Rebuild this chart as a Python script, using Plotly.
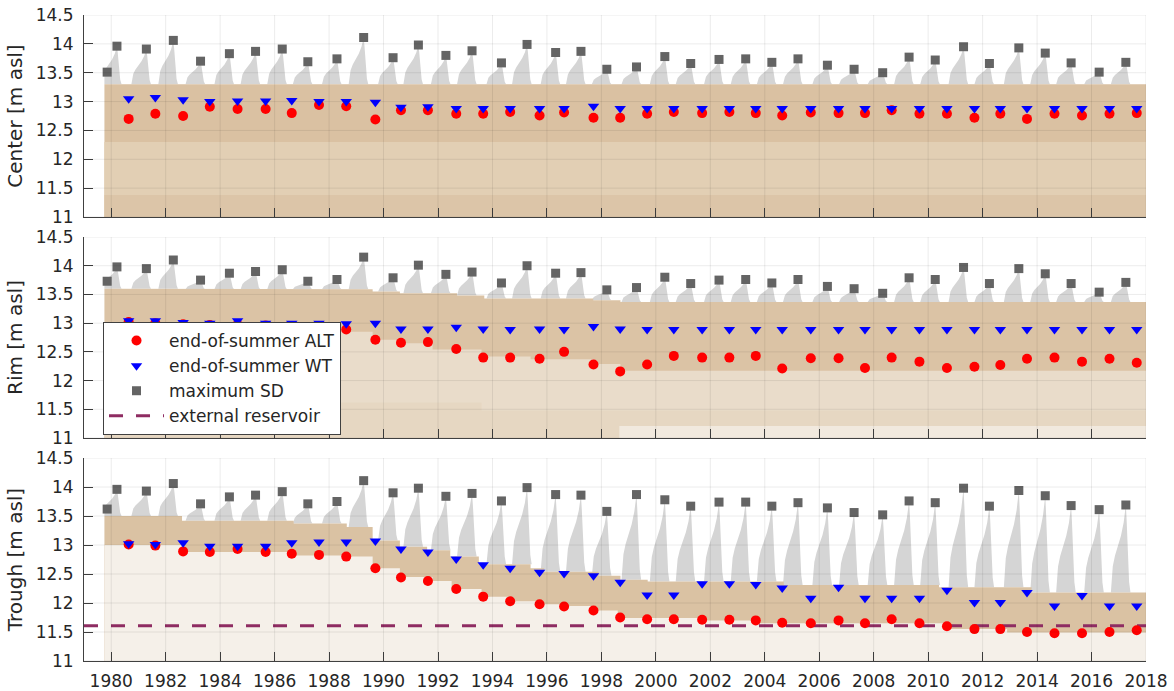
import plotly.graph_objects as go
from plotly.subplots import make_subplots

# ---------------------------------------------------------------- axes
record_start = 1979.75
record_end = 2018.0
x_range = [1979.0, 2018.0]
y_range = [11.0, 14.5]
x_ticks = list(range(1980, 2019, 2))
y_ticks = [11, 11.5, 12, 12.5, 13, 13.5, 14, 14.5]
panel_names = ["Center", "Rim", "Trough"]

# ------------------------------------------- end-of-summer values (1980-2017)
summer_dates = [1980.64, 1981.62, 1982.64, 1983.62, 1984.64, 1985.67, 1986.63,
                1987.63, 1988.63, 1989.70, 1990.64, 1991.63, 1992.67, 1993.66,
                1994.65, 1995.73, 1996.63, 1997.71, 1998.69, 1999.68, 2000.66,
                2001.70, 2002.70, 2003.67, 2004.64, 2005.69, 2006.71, 2007.68,
                2008.66, 2009.68, 2010.69, 2011.70, 2012.65, 2013.63, 2014.64,
                2015.65, 2016.66, 2017.66]

center_alt = [12.70, 12.79, 12.75, 12.91, 12.87, 12.87, 12.80, 12.94, 12.92, 12.69,
              12.85, 12.85, 12.79, 12.79, 12.82, 12.76, 12.81, 12.72, 12.72, 12.79,
              12.82, 12.80, 12.82, 12.80, 12.76, 12.81, 12.80, 12.80, 12.85, 12.79,
              12.79, 12.72, 12.79, 12.70, 12.79, 12.76, 12.79, 12.80]
center_wt = [13.05, 13.07, 13.03, 13.00, 13.01, 13.01, 13.02, 13.00, 13.00, 12.99,
             12.90, 12.91, 12.88, 12.88, 12.88, 12.88, 12.88, 12.92, 12.88, 12.88,
             12.88, 12.88, 12.88, 12.88, 12.88, 12.88, 12.88, 12.88, 12.88, 12.88,
             12.88, 12.88, 12.88, 12.88, 12.88, 12.88, 12.88, 12.88]

rim_alt = [13.02, 13.00, 12.98, 12.97, 12.97, 12.96, 12.95, 12.93, 12.89, 12.71,
           12.66, 12.67, 12.55, 12.40, 12.40, 12.38, 12.50, 12.28, 12.16, 12.28,
           12.43, 12.40, 12.40, 12.43, 12.21, 12.39, 12.39, 12.22, 12.40, 12.33,
           12.22, 12.24, 12.27, 12.38, 12.40, 12.33, 12.38, 12.31]
rim_wt = [13.04, 13.04, 13.01, 13.00, 13.04, 13.00, 13.00, 13.00, 12.99, 13.00,
          12.90, 12.90, 12.93, 12.90, 12.89, 12.90, 12.89, 12.94, 12.90, 12.89,
          12.89, 12.89, 12.89, 12.89, 12.89, 12.89, 12.89, 12.89, 12.89, 12.89,
          12.89, 12.89, 12.89, 12.89, 12.89, 12.89, 12.89, 12.89]

trough_alt = [13.01, 12.99, 12.89, 12.88, 12.93, 12.88, 12.85, 12.83, 12.80, 12.60,
              12.44, 12.38, 12.24, 12.11, 12.03, 11.98, 11.94, 11.87, 11.75, 11.72,
              11.72, 11.71, 11.71, 11.70, 11.66, 11.65, 11.70, 11.65, 11.72, 11.65,
              11.60, 11.55, 11.55, 11.50, 11.48, 11.48, 11.50, 11.53]
trough_wt = [13.02, 13.01, 13.04, 12.98, 12.98, 12.98, 13.04, 13.05, 13.05, 13.07,
             12.93, 12.88, 12.76, 12.66, 12.60, 12.53, 12.51, 12.47, 12.36, 12.14,
             12.14, 12.33, 12.33, 12.32, 12.26, 12.08, 12.27, 12.08, 12.08, 12.08,
             12.22, 12.01, 12.01, 12.18, 11.95, 12.13, 11.95, 11.95]

# ------------------------------------------------ maximum snow depth surface
sd_dates = [1979.85, 1980.21, 1981.29, 1982.28, 1983.28, 1984.34, 1985.30, 1986.28,
            1987.22, 1988.29, 1989.27, 1990.35, 1991.28, 1992.29, 1993.25, 1994.33,
            1995.27, 1996.32, 1997.25, 1998.20, 1999.29, 2000.33, 2001.28, 2002.32,
            2003.30, 2004.26, 2005.22, 2006.30, 2007.28, 2008.33, 2009.30, 2010.26,
            2011.30, 2012.25, 2013.33, 2014.30, 2015.25, 2016.28, 2017.26]
center_sd = [13.51, 13.96, 13.91, 14.06, 13.70, 13.83, 13.87, 13.91, 13.69, 13.74,
             14.11, 13.76, 13.98, 13.80, 13.88, 13.67, 13.99, 13.85, 13.87, 13.56,
             13.60, 13.78, 13.66, 13.73, 13.74, 13.68, 13.74, 13.63, 13.56, 13.50,
             13.77, 13.72, 13.95, 13.66, 13.93, 13.84, 13.67, 13.51, 13.68]
rim_sd = [13.73, 13.98, 13.95, 14.10, 13.75, 13.87, 13.90, 13.93, 13.73, 13.76,
          14.15, 13.79, 14.01, 13.85, 13.89, 13.70, 14.00, 13.87, 13.88, 13.58,
          13.62, 13.80, 13.69, 13.75, 13.76, 13.70, 13.76, 13.64, 13.60, 13.52,
          13.79, 13.76, 13.97, 13.69, 13.95, 13.86, 13.69, 13.54, 13.71]
trough_sd = [13.62, 13.96, 13.93, 14.06, 13.71, 13.83, 13.86, 13.92, 13.71, 13.75,
             14.11, 13.90, 13.98, 13.84, 13.89, 13.76, 13.99, 13.87, 13.86, 13.58,
             13.87, 13.78, 13.67, 13.74, 13.74, 13.67, 13.73, 13.64, 13.56, 13.52,
             13.76, 13.73, 13.98, 13.67, 13.94, 13.85, 13.68, 13.61, 13.69]

# seasonal snow-cover profile around each maximum (years from peak, share of depth)
snow_profile_dt = [-0.55, -0.48, -0.40, -0.30, -0.18, -0.08, -0.02, 0.0,
                   0.03, 0.07, 0.12, 0.17]
snow_profile_frac = [0.0, 0.30, 0.42, 0.52, 0.65, 0.80, 0.93, 1.0,
                     0.82, 0.45, 0.12, 0.0]

# ------------------------------------------- ground layers (step start, level)
center_surface_t = [1979.75]
center_surface = [13.30]
center_layer2_t = [1979.75]
center_layer2 = [12.30]
center_layer3_t = [1979.75]
center_layer3 = [11.38]

rim_surface_t = [1979.75, 1982.6, 1989.6, 1990.6, 1992.7, 1993.7, 1997.7, 1998.7]
rim_surface = [13.60, 13.59, 13.55, 13.52, 13.48, 13.43, 13.40, 13.37]
rim_table_t = [1979.75, 1988.65, 1989.6, 1990.6, 1991.8, 1993.6, 1995.4, 1997.7, 1998.7]
rim_table = [12.92, 12.85, 12.71, 12.65, 12.54, 12.42, 12.37, 12.29, 12.17]
rim_deep_t = [1979.75, 1993.6]
rim_deep = [11.62, 11.48]
rim_base_t = [1998.66]
rim_base = [11.21]

trough_surface_t = [1979.75, 1982.6, 1986.7, 1988.65, 1989.6, 1990.6, 1991.6, 1992.45,
                    1993.5, 1995.4, 1995.9, 1997.9, 1998.7, 1999.7, 2004.7, 2010.4,
                    2013.8]
trough_surface = [13.50, 13.42, 13.37, 13.31, 13.08, 12.97, 12.91, 12.80,
                  12.67, 12.60, 12.54, 12.47, 12.40, 12.37, 12.31, 12.27,
                  12.18]
trough_table_t = [1979.75, 1982.6, 1986.7, 1988.65, 1989.6, 1990.6, 1991.8, 1992.5,
                  1993.6, 1994.6, 1995.7, 1996.6, 1997.7, 1998.6, 2001.7, 2003.6,
                  2010.7, 2012.9]
trough_table = [13.00, 12.88, 12.82, 12.80, 12.60, 12.45, 12.38, 12.24,
                12.11, 12.03, 11.98, 11.95, 11.87, 11.74, 11.70, 11.65,
                11.55, 11.49]

reservoir_level = 11.61

# ---------------------------------------------------------------- colours
c_alt = "#FF0000"
c_wt = "#0000FF"
c_sd = "#646464"
c_snow = "#D5D5D5"
c_res = "#8E2C62"
c_text = "#262626"

panels = [
    dict(alt=center_alt, wt=center_wt, sd=center_sd,
         surface=(center_surface_t, center_surface),
         layers=[(center_surface_t, center_surface, "#DAC1A2"),
                 (center_layer2_t, center_layer2, "#E2CFB4"),
                 (center_layer3_t, center_layer3, "#DCC5A8")],
         reservoir=False),
    dict(alt=rim_alt, wt=rim_wt, sd=rim_sd,
         surface=(rim_surface_t, rim_surface),
         layers=[(rim_surface_t, rim_surface, "#DBC3A5"),
                 (rim_table_t, rim_table, "#E9DCCA"),
                 (rim_deep_t, rim_deep, "#E6D7C2"),
                 (rim_base_t, rim_base, "#F1E9DE")],
         reservoir=False),
    dict(alt=trough_alt, wt=trough_wt, sd=trough_sd,
         surface=(trough_surface_t, trough_surface),
         layers=[(trough_surface_t, trough_surface, "#DAC2A3"),
                 (trough_table_t, trough_table, "#F5F0E9")],
         reservoir=True),
]


def step_path(step_t, step_v, end):
    xs, ys = [], []
    bounds = list(step_t[1:]) + [end]
    for t0, t1, v in zip(step_t, bounds, step_v):
        xs += [t0, t1]
        ys += [v, v]
    return xs, ys


def level_at(t, step_t, step_v):
    level = step_v[0]
    for t0, v in zip(step_t, step_v):
        if t >= t0:
            level = v
    return level


def snow_polygons(dates, peaks, surface):
    xs, ys = [], []
    for t_peak, v_peak in zip(dates[1:], peaks[1:]):
        ground = level_at(t_peak, *surface)
        for dt, frac in zip(snow_profile_dt, snow_profile_frac):
            xs.append(max(t_peak + dt, record_start))
            ys.append(ground + frac * (v_peak - ground))
        xs.append(None)
        ys.append(None)
    return xs, ys


fig = make_subplots(rows=3, cols=1)

for i, p in enumerate(panels):
    row = i + 1
    first = i == 0

    sx, sy = snow_polygons(sd_dates, p["sd"], p["surface"])
    fig.add_trace(go.Scatter(x=sx, y=sy, mode="lines", fill="toself",
                             fillcolor=c_snow, line=dict(width=0, color=c_snow),
                             showlegend=False, hoverinfo="skip"), row=row, col=1)

    for lt, lv, col in p["layers"]:
        lx, ly = step_path(lt, lv, record_end)
        fig.add_trace(go.Scatter(x=lx, y=ly, mode="lines", fill="tozeroy",
                                 fillcolor=col, line=dict(width=0, color=col),
                                 showlegend=False, hoverinfo="skip"), row=row, col=1)

    if p["reservoir"]:
        fig.add_trace(go.Scatter(x=x_range, y=[reservoir_level, reservoir_level],
                                 mode="lines", name="external reservoir",
                                 line=dict(color=c_res, width=3, dash="14px,13px"),
                                 legendrank=4, showlegend=True), row=row, col=1)

    fig.add_trace(go.Scatter(x=summer_dates, y=p["alt"], mode="markers",
                             name="end-of-summer ALT", legendgroup="alt",
                             marker=dict(symbol="circle", size=10, color=c_alt),
                             legendrank=1, showlegend=first), row=row, col=1)
    fig.add_trace(go.Scatter(x=summer_dates, y=p["wt"], mode="markers",
                             name="end-of-summer WT", legendgroup="wt",
                             marker=dict(symbol="triangle-down", size=10, color=c_wt),
                             legendrank=2, showlegend=first), row=row, col=1)
    fig.add_trace(go.Scatter(x=sd_dates, y=p["sd"], mode="markers",
                             name="maximum SD", legendgroup="sd",
                             marker=dict(symbol="square", size=9, color=c_sd),
                             legendrank=3, showlegend=first), row=row, col=1)

# grid drawn over the filled layers
grid_color = "rgba(0,0,0,0.08)"
shapes = []
for i in range(3):
    xref = "x" if i == 0 else f"x{i + 1}"
    yref = "y" if i == 0 else f"y{i + 1}"
    for xt in x_ticks:
        shapes.append(dict(type="line", xref=xref, yref=f"{yref} domain",
                           x0=xt, x1=xt, y0=0, y1=1, layer="above",
                           line=dict(color=grid_color, width=1)))
    for yt in y_ticks:
        shapes.append(dict(type="line", xref=f"{xref} domain", yref=yref,
                           x0=0, x1=1, y0=yt, y1=yt, layer="above",
                           line=dict(color=grid_color, width=1)))

domains = [[0.6873, 1.0], [0.3452, 0.6563], [0.0, 0.3142]]
axis_font = dict(family="DejaVu Sans", size=17, color=c_text)
for i in range(3):
    row = i + 1
    fig.update_xaxes(range=x_range, tickvals=x_ticks, ticks="inside", ticklen=9,
                     tickcolor="#404040", showgrid=False, zeroline=False,
                     showline=True, linecolor="#404040", linewidth=1,
                     showticklabels=(row == 3), tickfont=axis_font,
                     ticklabelstandoff=5, automargin=False,
                     row=row, col=1)
    fig.update_yaxes(range=y_range, tickvals=y_ticks, ticks="inside", ticklen=9,
                     tickcolor="#404040", showgrid=False, zeroline=False,
                     showline=True, linecolor="#404040", linewidth=1,
                     tickfont=axis_font, ticklabelstandoff=6, automargin=False,
                     domain=domains[i],
                     title=dict(text=f"{panel_names[i]} [m asl]", standoff=7,
                                font=dict(family="DejaVu Sans", size=20, color=c_text)),
                     row=row, col=1)

fig.update_layout(
    width=1174, height=691,
    margin=dict(l=84, r=28, t=15, b=30),
    paper_bgcolor="white", plot_bgcolor="white",
    font=dict(family="DejaVu Sans", color=c_text),
    shapes=shapes,
    legend=dict(x=0.0179, y=0.5248, xanchor="left", yanchor="top",
                bgcolor="white", bordercolor="#404040", borderwidth=1,
                font=dict(family="DejaVu Sans", size=17, color=c_text),
                itemwidth=55, tracegroupgap=0),
    showlegend=True,
)

fig.write_html("out.html")
